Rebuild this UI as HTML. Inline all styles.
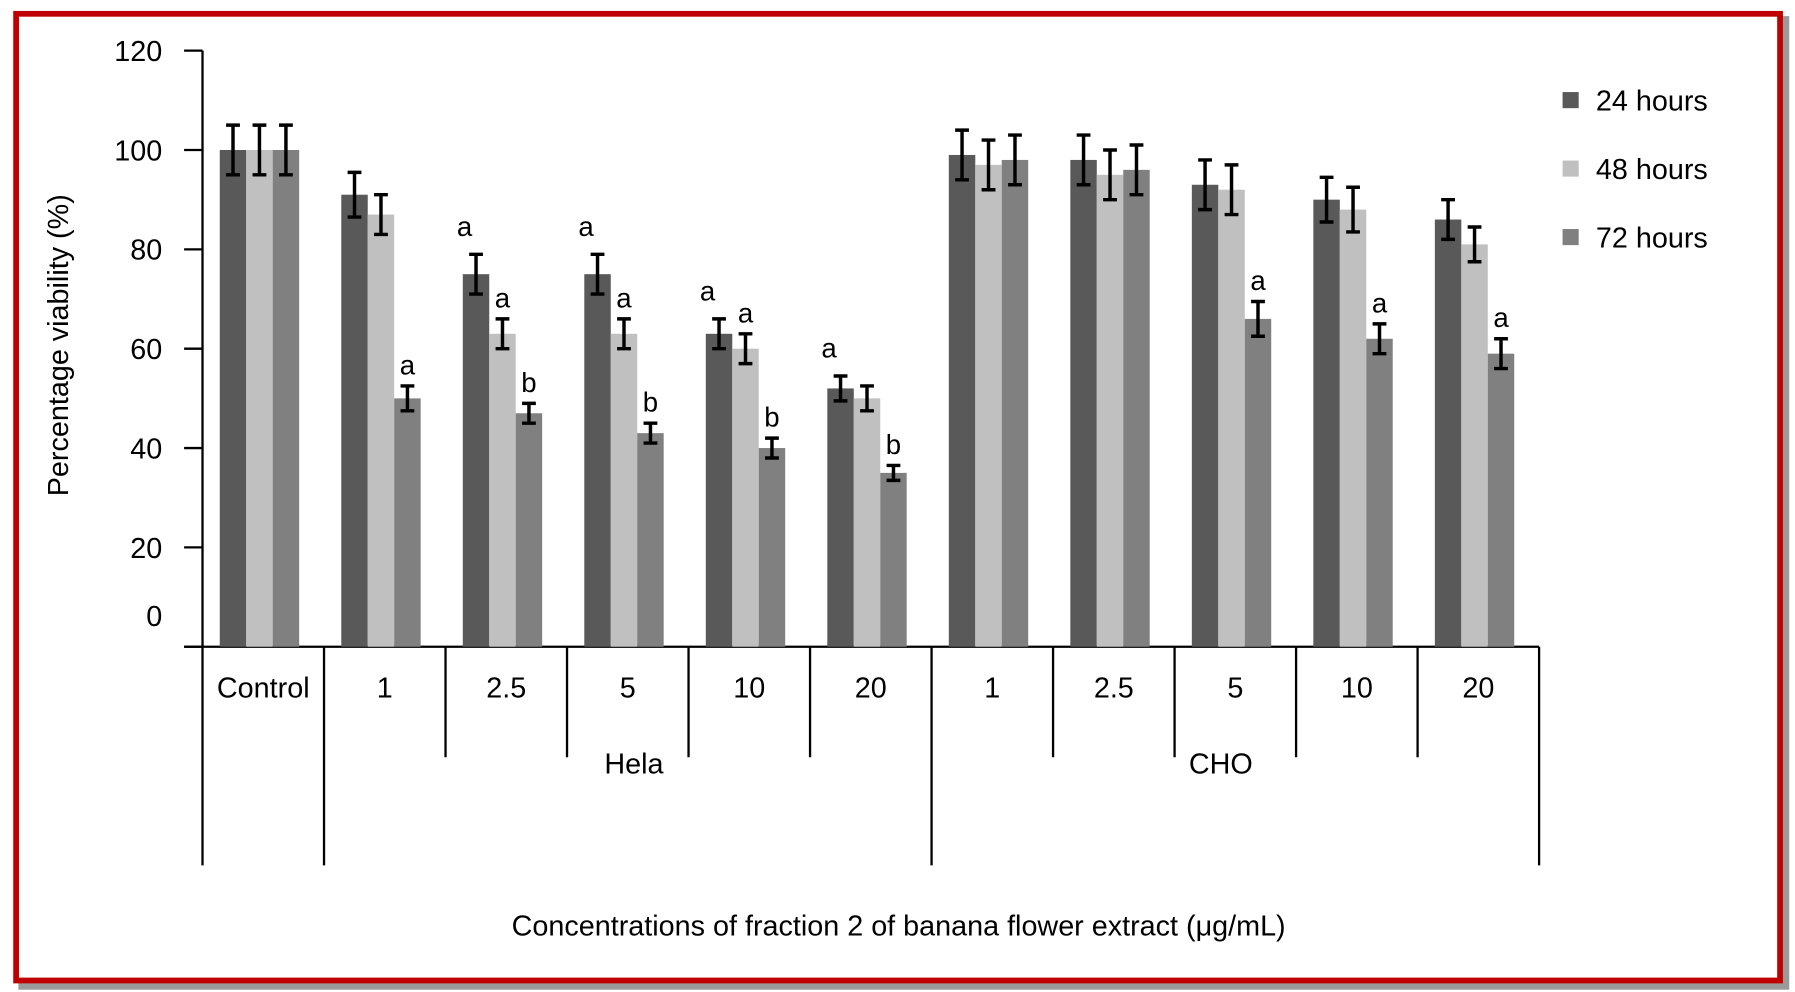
<!DOCTYPE html>
<html><head><meta charset="utf-8"><style>
html,body{margin:0;padding:0;background:#fff;}
svg{display:block;font-family:"Liberation Sans",Arial,sans-serif;}
</style></head><body>
<svg id="chart" width="1795" height="992" viewBox="0 0 1560 862" preserveAspectRatio="none" xmlns="http://www.w3.org/2000/svg">
<rect x="19" y="17" width="1533" height="840" fill="none" stroke="#9a9a9a" stroke-width="6"/>
<rect x="14" y="12" width="1533" height="840" fill="#fff" stroke="#c00000" stroke-width="5"/>
<g id="plot"></g>
</svg>
<script>
const categories=["Control","1","2.5","5","10","20","1","2.5","5","10","20"];
const series=["24 hours","48 hours","72 hours"];
const v24=[100,91,75,75,63,52,99,98,93,90,86];
const v48=[100,87,63,63,60,50,97,95,92,88,81];
const v72=[100,50,47,43,40,35,98,96,66,62,59];
const e24=[5,4.5,4,4,3,2.5,5,5,5,4.5,4];
const e48=[5,4,3,3,3,2.5,5,5,5,4.5,3.5];
const e72=[5,2.5,2,2,2,1.5,5,5,3.5,3,3];
const l24=["","","a","a","a","a","","","","",""];
const l48=["","","a","a","a","","","","","",""];
const l72=["","a","b","b","b","b","","","a","a","a"];
const yTicks=[0,20,40,60,80,100,120];
const colors=["#595959","#c0c0c0","#808080"];
const NS="http://www.w3.org/2000/svg";
const g=document.getElementById('plot');
const X0=176,CW=105.6,Y0=562,YS=(562-44)/120,BW=23;
function y(v){return Y0-v*YS;}
function cx(i){return X0+i*CW;}
function mk(t,a,txt){const e=document.createElementNS(NS,t);for(const k in a)e.setAttribute(k,a[k]);if(txt!==undefined)e.textContent=txt;g.appendChild(e);return e;}
// y axis
let ax=mk('line',{x1:X0,y1:44,x2:X0,y2:Y0,stroke:'#000','stroke-width':2});


yTicks.forEach(t=>{
 const tk=mk('line',{x1:160,x2:X0,y1:y(t),y2:y(t),stroke:'#000','stroke-width':2});
 
 
 const lb=mk('text',{x:141,y:y(t)+(t===0?-18:9),'text-anchor':'end','font-size':25,fill:'#000'},t);
 
 
});
let xa=mk('line',{x1:160,y1:Y0,x2:cx(11),y2:Y0,stroke:'#000','stroke-width':2});


// dividers
for(let i=0;i<=11;i++){
 const long=(i===0||i===1||i===6||i===11);
 const d=mk('line',{x1:cx(i),x2:cx(i),y1:Y0,y2:long?752:658,stroke:'#000','stroke-width':2});
 
 
}
const vals=[v24,v48,v72],errs=[e24,e48,e72],lets=[l24,l48,l72];
categories.forEach((c,i)=>{
 const lb=mk('text',{x:cx(i)+CW/2,y:606,'text-anchor':'middle','font-size':25},c);
 
 
 for(let s=0;s<3;s++){
  const v=vals[s][i],er=errs[s][i];
  const bx=cx(i)+15+s*BW;
  const r=mk('rect',{x:bx,y:y(v),width:BW,height:Y0-y(v),fill:colors[s]});
  
  
  const m=bx+BW/2;
  const eb=mk('path',{d:`M${m-6},${y(v+er)}H${m+6}M${m},${y(v+er)}V${y(v-er)}M${m-6},${y(v-er)}H${m+6}`,stroke:'#000','stroke-width':3,fill:'none'});
  
  
  const L=lets[s][i];
  if(L){
   const t=mk('text',{x:m-(s===0?10:0),y:y(v+er)-(s===0?16:10),'text-anchor':'middle','font-size':24},L);
   
   
  }
 }
});
let h=mk('text',{x:551,y:672,'text-anchor':'middle','font-size':25},'Hela');


let c2=mk('text',{x:1061,y:672,'text-anchor':'middle','font-size':25},'CHO');


let xt=mk('text',{x:781,y:813,'text-anchor':'middle','font-size':25},'Concentrations of fraction 2 of banana flower extract (\u03bcg/mL)');


let yt=mk('text',{x:0,y:0,'text-anchor':'middle','font-size':25,transform:'translate(59,300) rotate(-90)'},'Percentage viability (%)');


series.forEach((s,k)=>{
 const yy=87+k*59.5;
 const sq=mk('rect',{x:1358,y:yy-7,width:14,height:14,fill:colors[k]});
 
 
 const t=mk('text',{x:1387,y:yy+9,'font-size':25},s);
 
 
});
</script>
</body></html>
